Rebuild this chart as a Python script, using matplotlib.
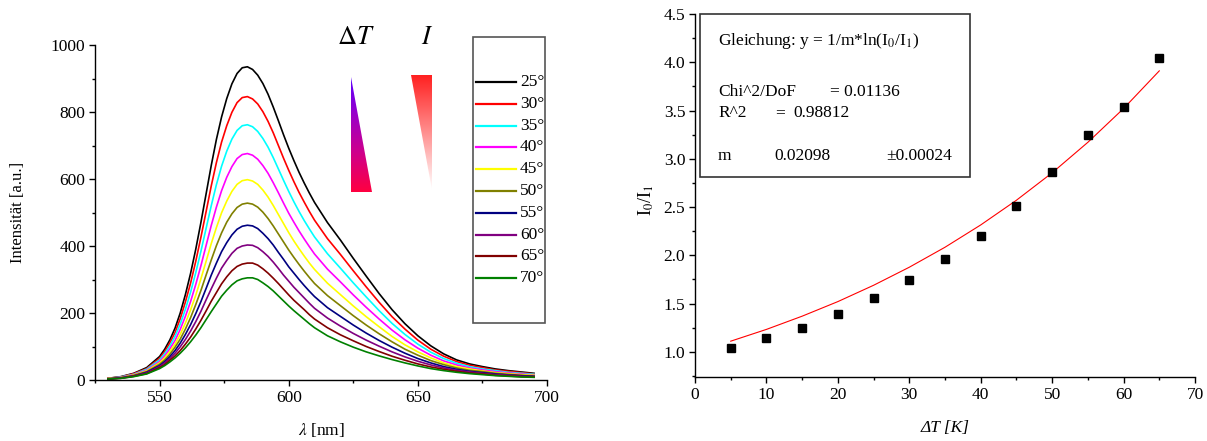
import numpy as np
import matplotlib
matplotlib.use("Agg")
import matplotlib.pyplot as plt
from matplotlib.patches import Polygon, Rectangle
from matplotlib.colors import LinearSegmentedColormap
from matplotlib.ticker import MultipleLocator, FormatStrFormatter

plt.rcParams['font.family'] = ['Liberation Serif', 'DejaVu Serif']
plt.rcParams['mathtext.fontset'] = 'stix'

W, H = 1207, 441

# --- left panel: emission spectra at different temperatures ---
wavelength = [530, 535, 540, 545,
              550, 552, 554, 556, 558, 560, 562, 564, 566, 568, 570, 572, 574, 576, 578, 580,
              582, 584, 586, 588, 590, 592, 594, 596, 598, 600, 602, 604, 606, 608, 610,
              615, 620, 625, 630, 635, 640, 645, 650, 655, 660, 665, 670, 675, 680, 685, 690, 695]

i25 = [5, 10, 20, 37,
       70, 92, 120, 155, 200, 255, 318, 390, 470, 555, 640, 718, 785, 840, 884, 915,
       932, 935, 927, 910, 885, 853, 815, 774, 732, 692, 655, 620, 588, 558, 530,
       470, 418, 363, 310, 258, 210, 168, 132, 102, 78, 60, 48, 40, 33, 28, 24, 20]
i30 = [5, 9, 19, 34,
       65, 85, 111, 142, 183, 233, 289, 354, 426, 502, 579, 649, 710, 759, 799, 828,
       843, 846, 839, 824, 801, 772, 738, 700, 662, 626, 592, 560, 531, 503, 477,
       422, 375, 326, 278, 232, 189, 152, 119, 92, 71, 55, 44, 37, 30, 26, 22, 18]
i35 = [4, 9, 17, 32,
       60, 79, 102, 131, 167, 211, 262, 320, 384, 452, 520, 583, 638, 683, 719, 745,
       759, 762, 756, 742, 721, 695, 664, 630, 596, 563, 532, 503, 476, 451, 427,
       377, 334, 290, 248, 207, 169, 136, 107, 83, 64, 50, 40, 33, 28, 23, 20, 17]
i40 = [4, 8, 16, 29,
       55, 72, 93, 118, 151, 190, 234, 285, 341, 401, 461, 516, 565, 605, 637, 661,
       673, 676, 671, 659, 640, 617, 589, 559, 528, 498, 471, 445, 421, 398, 376,
       331, 293, 254, 217, 182, 149, 120, 95, 74, 57, 45, 36, 30, 25, 21, 18, 15]
i45 = [4, 7, 15, 27,
       51, 66, 85, 107, 136, 170, 209, 253, 302, 354, 407, 455, 499, 534, 563, 584,
       595, 598, 594, 584, 567, 546, 521, 494, 467, 440, 415, 392, 370, 349, 330,
       289, 255, 221, 189, 159, 130, 105, 84, 66, 51, 40, 33, 27, 22, 19, 16, 14]
i50 = [4, 7, 14, 25,
       47, 60, 77, 98, 122, 152, 186, 225, 267, 313, 358, 401, 439, 471, 496, 515,
       525, 528, 525, 516, 501, 482, 460, 436, 412, 388, 366, 345, 325, 306, 288,
       252, 222, 192, 164, 138, 114, 92, 74, 58, 46, 36, 29, 25, 20, 17, 14, 12]
i55 = [3, 6, 12, 23,
       43, 55, 70, 88, 110, 136, 165, 198, 234, 273, 313, 349, 383, 410, 433, 450,
       459, 462, 460, 452, 438, 422, 403, 381, 360, 338, 319, 300, 282, 265, 249,
       216, 190, 164, 140, 118, 98, 80, 64, 51, 40, 32, 26, 22, 18, 15, 13, 11]
i60 = [3, 6, 12, 21,
       40, 51, 64, 80, 99, 121, 146, 174, 205, 239, 272, 304, 334, 357, 378, 393,
       400, 403, 402, 395, 383, 369, 352, 333, 313, 295, 277, 261, 245, 229, 214,
       185, 161, 139, 119, 101, 84, 69, 56, 45, 36, 29, 24, 20, 16, 14, 11, 10]
i65 = [3, 5, 11, 19,
       37, 46, 59, 72, 88, 107, 128, 152, 178, 206, 235, 261, 287, 308, 326, 339,
       346, 349, 349, 343, 332, 319, 304, 288, 271, 254, 238, 224, 210, 195, 182,
       156, 135, 117, 100, 85, 71, 59, 48, 39, 32, 26, 21, 18, 14, 12, 10, 9]
i70 = [3, 5, 10, 18,
       34, 43, 54, 66, 80, 96, 114, 134, 156, 180, 204, 227, 250, 268, 284, 296,
       302, 305, 305, 300, 290, 279, 266, 251, 236, 221, 207, 194, 181, 168, 156,
       132, 114, 98, 84, 72, 61, 51, 42, 34, 28, 23, 19, 16, 13, 11, 9, 8]

spectra = [i25, i30, i35, i40, i45, i50, i55, i60, i65, i70]
temp_labels = ["25°", "30°", "35°", "40°", "45°", "50°", "55°", "60°", "65°", "70°"]
colors = ["#000000", "#ff0000", "#00ffff", "#ff00ff", "#ffff00",
          "#808000", "#000080", "#800080", "#800000", "#008000"]

# --- right panel: intensity ratio vs temperature difference ---
delta_t = [5, 10, 15, 20, 25, 30, 35, 40, 45, 50, 55, 60, 65]
ratio = [1.04, 1.14, 1.25, 1.39, 1.56, 1.74, 1.96, 2.20, 2.51, 2.86, 3.25, 3.54, 4.04]
fit_ratio = [1.111, 1.233, 1.370, 1.521, 1.690, 1.877, 2.084, 2.315, 2.571, 2.855, 3.171, 3.521, 3.911]


def px_rect(x0, y0, x1, y1):
    return [x0 / W, 1 - y1 / H, (x1 - x0) / W, (y1 - y0) / H]


def style(ax):
    for s in ["top", "right"]:
        ax.spines[s].set_visible(False)
    for s in ["left", "bottom"]:
        ax.spines[s].set_linewidth(1.0)
    ax.tick_params(which="both", direction="out", width=1.0, labelsize=12.5, pad=3)
    ax.tick_params(which="major", length=4)
    ax.tick_params(which="minor", length=2.5)


fig = plt.figure(figsize=(W / 100, H / 100), dpi=100)

ax1 = fig.add_axes(px_rect(95, 45, 547, 380))
for vals, col in zip(spectra, colors):
    ax1.plot(wavelength, vals, color=col, lw=1.2, solid_joinstyle="round")
ax1.set_xlim(525, 700)
ax1.set_ylim(0, 1000)
ax1.xaxis.set_major_locator(MultipleLocator(50))
ax1.xaxis.set_minor_locator(MultipleLocator(25))
ax1.yaxis.set_major_locator(MultipleLocator(200))
ax1.yaxis.set_minor_locator(MultipleLocator(100))
style(ax1)

ax2 = fig.add_axes(px_rect(695, 14, 1195, 377))
ax2.plot(delta_t, fit_ratio, color="#ff0000", lw=0.8)
ax2.plot(delta_t, ratio, ls="none", marker="s", ms=5.8, color="black")
ax2.set_xlim(0, 70)
ax2.set_ylim(0.74, 4.5)
ax2.xaxis.set_major_locator(MultipleLocator(10))
ax2.xaxis.set_minor_locator(MultipleLocator(5))
ax2.yaxis.set_major_locator(MultipleLocator(0.5))
ax2.yaxis.set_minor_locator(MultipleLocator(0.25))
ax2.yaxis.set_major_formatter(FormatStrFormatter("%.1f"))
style(ax2)

# overlay in pixel coordinates for labels, legend, annotations
ov = fig.add_axes([0, 0, 1, 1])
ov.axis("off")

ov.text(18, 212, "Intensität [a.u.]", rotation=90, ha="center", va="center", fontsize=12)
ov.text(321, 430, r"$\lambda$ [nm]", ha="center", va="center", fontsize=12.5)
ov.text(646, 200, r"I$_0$/I$_1$", rotation=90, ha="center", va="center", fontsize=13)
ov.text(945, 428, "ΔT [K]", style="italic", ha="center", va="center", fontsize=12.5)

# legend
ov.add_patch(Rectangle((473, 37), 72, 286, fill=False, edgecolor="#555555", lw=1.2))
for k, (lab, col) in enumerate(zip(temp_labels, colors)):
    yk = 82 + k * 21.8
    ov.plot([476, 516], [yk, yk], color=col, lw=1.6)
    ov.text(520, yk, lab, ha="left", va="center", fontsize=12.5)

# Delta T / I annotation with gradient wedges
ov.text(356, 38, r"$\Delta T$", ha="center", va="center", fontsize=19)
ov.text(427, 38, r"$I$", ha="center", va="center", fontsize=19)

grad = np.linspace(0, 1, 256).reshape(-1, 1)
cmap_t = LinearSegmentedColormap.from_list("dt", ["#5a00ff", "#9a00c8", "#d0008a", "#ff0040"])
cmap_i = LinearSegmentedColormap.from_list("ii", ["#ff2020", "#ffffff"])

tri_t = Polygon([(350.7, 76.7), (350.7, 192.3), (371.7, 192.3)], closed=True,
                facecolor="none", edgecolor="none")
ov.add_patch(tri_t)
im_t = ov.imshow(grad, cmap=cmap_t, extent=[350.7, 371.7, 192.3, 76.7], aspect="auto",
                 origin="upper")
im_t.set_clip_path(tri_t)

tri_i = Polygon([(411, 75), (432, 75), (432, 190)], closed=True,
                facecolor="none", edgecolor="none")
ov.add_patch(tri_i)
im_i = ov.imshow(grad, cmap=cmap_i, extent=[411, 432, 190, 75], aspect="auto", origin="upper")
im_i.set_clip_path(tri_i)

# fit result box
ov.add_patch(Rectangle((700, 14), 270, 163, fill=False, edgecolor="#333333", lw=1.2))
ov.text(718, 45, r"Gleichung: y = 1/m*ln(I$_0$/I$_1$)", va="baseline", fontsize=12.5)
ov.text(718, 96, "Chi^2/DoF", va="baseline", fontsize=12.5)
ov.text(830, 96, "= 0.01136", va="baseline", fontsize=12.5)
ov.text(718, 117, "R^2", va="baseline", fontsize=12.5)
ov.text(775, 117, "=", va="baseline", fontsize=12.5)
ov.text(793, 117, "0.98812", va="baseline", fontsize=12.5)
ov.text(718, 160, "m", va="baseline", fontsize=12.5)
ov.text(774, 160, "0.02098", va="baseline", fontsize=12.5)
ov.text(886, 160, "±0.00024", va="baseline", fontsize=12.5)

ov.set_xlim(0, W)
ov.set_ylim(H, 0)

fig.savefig("out.png", dpi=100)
